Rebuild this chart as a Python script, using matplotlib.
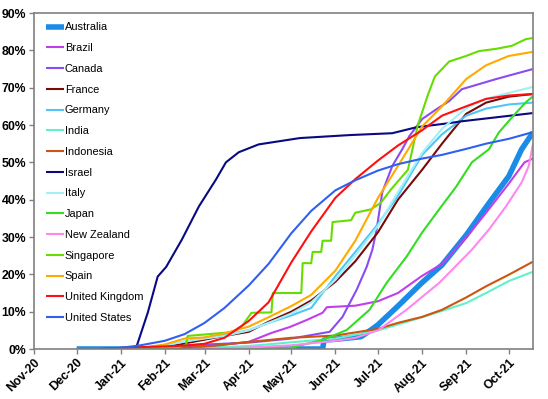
import matplotlib
matplotlib.use('Agg')
import matplotlib.pyplot as plt
import matplotlib.dates as mdates
from matplotlib.ticker import MultipleLocator, PercentFormatter
import pandas as pd
from datetime import datetime

plt.rcParams['font.family'] = ['Liberation Sans', 'DejaVu Sans']

# ---------------- data (share of population, %) ----------------
countries = ['Australia', 'Brazil', 'Canada', 'France', 'Germany', 'India', 'Indonesia',
             'Israel', 'Italy', 'Japan', 'New Zealand', 'Singapore', 'Spain',
             'United Kingdom', 'United States']

australia_dates = ['2020-12-01', '2021-05-23', '2021-05-24', '2021-06-01', '2021-06-19', '2021-06-26',
                   '2021-07-01', '2021-07-15', '2021-08-01', '2021-08-15', '2021-09-01', '2021-09-15',
                   '2021-10-01', '2021-10-10', '2021-10-18']
australia_vals = [0, 0, 2.4, 2.6, 3.3, 5.1, 6.5, 11.5, 17.8, 22.5, 30.5, 38, 46.3, 53.5, 58]

brazil_dates = ['2021-01-20', '2021-02-01', '2021-02-15', '2021-03-01', '2021-03-15', '2021-04-01',
                '2021-04-17', '2021-04-30', '2021-05-12', '2021-05-23', '2021-05-26', '2021-06-15',
                '2021-07-01', '2021-07-15', '2021-08-01', '2021-08-15', '2021-09-01', '2021-09-15',
                '2021-10-01', '2021-10-12', '2021-10-18']
brazil_vals = [0, 0.2, 0.5, 0.8, 1.2, 1.9, 4.3, 5.9, 7.8, 9.7, 11.2, 11.6, 12.8, 15, 19.6, 22.8,
               29.8, 36.5, 44.3, 50, 51]

canada_dates = ['2020-12-15', '2021-01-15', '2021-02-01', '2021-03-01', '2021-04-01', '2021-05-01',
                '2021-05-28', '2021-06-06', '2021-06-16', '2021-06-23', '2021-06-27', '2021-06-30',
                '2021-07-04', '2021-07-11', '2021-07-18', '2021-07-23', '2021-08-01', '2021-08-11',
                '2021-08-20', '2021-08-29', '2021-09-22', '2021-10-18']
canada_vals = [0, 0.3, 0.8, 1.2, 1.7, 2.8, 4.6, 8.6, 15.9, 22, 26.6, 32, 42, 49, 53.5, 57, 61.6,
               64.2, 66.4, 69.6, 72.3, 75]

france_dates = ['2020-12-27', '2021-01-15', '2021-02-01', '2021-02-15', '2021-03-01', '2021-03-15',
                '2021-04-01', '2021-04-15', '2021-05-01', '2021-05-15', '2021-06-01', '2021-06-15',
                '2021-07-01', '2021-07-15', '2021-08-01', '2021-08-15', '2021-09-01', '2021-09-15',
                '2021-10-01', '2021-10-18']
france_vals = [0, 0.1, 0.5, 1.5, 2.5, 3.5, 4.6, 7.3, 10, 13, 18, 23.5, 31.3, 40, 48, 55, 63, 66,
               67.6, 68.3]

germany_dates = ['2020-12-27', '2021-01-15', '2021-02-01', '2021-02-15', '2021-03-01', '2021-03-15',
                 '2021-04-01', '2021-04-15', '2021-05-01', '2021-05-15', '2021-06-01', '2021-06-15',
                 '2021-07-01', '2021-07-15', '2021-08-01', '2021-08-15', '2021-09-01', '2021-09-15',
                 '2021-10-01', '2021-10-18']
germany_vals = [0, 0.2, 1, 2, 3, 3.8, 5, 7, 9, 11, 19.5, 26, 33.5, 41, 52, 57.5, 62.5, 64.4,
                65.5, 66]

india_dates = ['2021-02-13', '2021-03-01', '2021-04-01', '2021-05-01', '2021-06-01', '2021-07-01',
               '2021-08-01', '2021-09-01', '2021-09-15', '2021-10-01', '2021-10-18']
india_vals = [0, 0.3, 0.8, 1.8, 2.8, 5, 8.5, 12.3, 15, 18.2, 20.7]

indonesia_dates = ['2021-01-28', '2021-03-01', '2021-04-01', '2021-05-01', '2021-06-01', '2021-07-01',
                   '2021-07-15', '2021-08-01', '2021-08-15', '2021-09-01', '2021-09-15', '2021-10-01',
                   '2021-10-18']
indonesia_vals = [0, 0.6, 1.9, 3, 3.6, 5.4, 7, 8.6, 10.5, 13.8, 16.8, 19.9, 23.4]

israel_dates = ['2020-12-20', '2021-01-10', '2021-01-12', '2021-01-20', '2021-01-27', '2021-02-02',
                '2021-02-13', '2021-02-25', '2021-03-09', '2021-03-16', '2021-03-25', '2021-04-08',
                '2021-05-07', '2021-06-11', '2021-07-11', '2021-07-28', '2021-08-20', '2021-08-29',
                '2021-10-18']
israel_vals = [0, 0, 0.5, 9.7, 19.4, 22, 29.3, 38.2, 45.4, 50, 52.7, 54.8, 56.5, 57.3, 57.8, 59.4,
               60.5, 61, 63.2]

italy_dates = ['2020-12-27', '2021-01-15', '2021-02-01', '2021-02-15', '2021-03-01', '2021-03-15',
               '2021-04-01', '2021-04-15', '2021-05-01', '2021-05-15', '2021-06-01', '2021-06-15',
               '2021-07-01', '2021-07-15', '2021-08-01', '2021-08-15', '2021-09-01', '2021-09-15',
               '2021-10-01', '2021-10-18']
italy_vals = [0, 0.1, 1, 2, 2.8, 3.5, 5, 7, 9.5, 12.5, 18.5, 25, 33, 42, 52.5, 59, 64.5, 67,
              68.6, 70.2]

japan_dates = ['2021-03-20', '2021-04-30', '2021-05-23', '2021-06-09', '2021-06-25', '2021-07-07',
               '2021-07-21', '2021-08-01', '2021-08-13', '2021-08-25', '2021-09-05', '2021-09-17',
               '2021-09-24', '2021-10-04', '2021-10-13', '2021-10-18']
japan_vals = [0, 0.3, 2.4, 5.1, 10.5, 17.7, 24.7, 31.2, 37.4, 43.5, 50, 53.5, 58, 62.4, 66.1, 67.7]

nz_dates = ['2021-02-20', '2021-04-01', '2021-05-01', '2021-06-01', '2021-06-15', '2021-07-01',
            '2021-07-21', '2021-08-13', '2021-09-05', '2021-09-17', '2021-09-29', '2021-10-10',
            '2021-10-15', '2021-10-18']
nz_vals = [0, 0.4, 1, 2.2, 3, 5, 10.5, 17.7, 26.6, 32, 38.2, 44.6, 49, 55]

singapore_dates = ['2021-01-15', '2021-02-10', '2021-02-16', '2021-02-17', '2021-03-20', '2021-03-27',
                   '2021-04-03', '2021-04-17', '2021-04-18', '2021-05-08', '2021-05-09', '2021-05-15',
                   '2021-05-16', '2021-05-22', '2021-05-23', '2021-05-29', '2021-05-30', '2021-06-12',
                   '2021-06-15', '2021-06-26', '2021-07-03', '2021-07-10', '2021-07-22', '2021-07-29',
                   '2021-08-05', '2021-08-10', '2021-08-20', '2021-09-01', '2021-09-10', '2021-09-22',
                   '2021-10-03', '2021-10-13', '2021-10-18']
singapore_vals = [0, 0.5, 1, 3.5, 4.5, 6, 9.7, 9.8, 15, 15, 23, 23, 26, 26, 29, 29, 34, 34.5,
                  36.5, 37.4, 39.2, 42.7, 48, 60, 68, 73, 77, 78.5, 79.8, 80.4, 81.2, 83, 83.3]

spain_dates = ['2021-01-01', '2021-01-15', '2021-02-01', '2021-02-15', '2021-03-01', '2021-03-15',
               '2021-04-01', '2021-04-15', '2021-05-01', '2021-05-15', '2021-06-01', '2021-06-15',
               '2021-07-01', '2021-07-15', '2021-08-01', '2021-08-15', '2021-09-01', '2021-09-15',
               '2021-10-01', '2021-10-18']
spain_vals = [0, 0.3, 1.2, 2.8, 3.1, 4.2, 6, 8.5, 11.5, 14.5, 21, 29, 40.5, 49, 59.6, 65, 72.3,
              76, 78.5, 79.6]

uk_dates = ['2020-12-20', '2021-01-01', '2021-01-15', '2021-02-01', '2021-02-15', '2021-03-01',
            '2021-03-15', '2021-04-01', '2021-04-15', '2021-05-01', '2021-05-15', '2021-06-01',
            '2021-06-15', '2021-07-01', '2021-07-15', '2021-08-01', '2021-08-15', '2021-09-01',
            '2021-09-15', '2021-10-01', '2021-10-18']
uk_vals = [0, 0.3, 0.5, 0.7, 0.9, 1.4, 3, 7.5, 12.5, 23.2, 31.5, 40.5, 45.5, 50.5, 54.5, 58.6,
           62.5, 65, 67, 67.9, 68.3]

us_dates = ['2020-12-15', '2021-01-01', '2021-01-15', '2021-02-01', '2021-02-15', '2021-03-01',
            '2021-03-15', '2021-04-01', '2021-04-15', '2021-05-01', '2021-05-15', '2021-06-01',
            '2021-06-15', '2021-07-01', '2021-07-15', '2021-08-01', '2021-08-15', '2021-09-01',
            '2021-09-15', '2021-10-01', '2021-10-18']
us_vals = [0, 0.3, 1, 2.2, 4, 7, 11, 17, 22.8, 31, 37, 42.5, 45.2, 47.8, 49.5, 51, 52, 53.6, 55,
           56.3, 58.1]

colors = ['#1a8ce8', '#c23ee8', '#8a4cf0', '#7a0a0a', '#4fc6f5', '#5ff2c8', '#cc5511',
          '#0a0a80', '#a0f0fa', '#33dd22', '#ff88ee', '#66dd00', '#ffaa00', '#ff1010', '#3060f0']
widths = [4.0, 1.5, 1.5, 1.5, 1.5, 1.5, 1.5, 1.5, 1.5, 1.5, 1.5, 1.5, 1.5, 1.5, 1.5]

all_dates = [australia_dates, brazil_dates, canada_dates, france_dates, germany_dates, india_dates,
             indonesia_dates, israel_dates, italy_dates, japan_dates, nz_dates, singapore_dates,
             spain_dates, uk_dates, us_dates]
all_vals = [australia_vals, brazil_vals, canada_vals, france_vals, germany_vals, india_vals,
            indonesia_vals, israel_vals, italy_vals, japan_vals, nz_vals, singapore_vals,
            spain_vals, uk_vals, us_vals]

# ---------------- figure ----------------
fig = plt.figure(figsize=(5.48, 3.99), dpi=100)
ax = fig.add_axes([34 / 548, 1 - 349 / 399, (533 - 34) / 548, (349 - 13) / 399])

for name, d, v, c, w in zip(countries, all_dates, all_vals, colors, widths):
    ax.plot(pd.to_datetime(d), v, color=c, lw=w, label=name,
            solid_joinstyle='round', solid_capstyle='butt')

ax.set_xlim(datetime(2020, 11, 1), datetime(2021, 10, 18))
ax.set_ylim(0, 90)
ax.xaxis.set_major_locator(mdates.MonthLocator())
ax.xaxis.set_major_formatter(mdates.DateFormatter('%b-%y'))
ax.yaxis.set_major_locator(MultipleLocator(10))
ax.yaxis.set_major_formatter(PercentFormatter(decimals=0))

ax.tick_params(axis='both', direction='out', length=3.5, width=1, color='#808080',
               labelsize=8.8, pad=2)
for lbl in ax.get_xticklabels():
    lbl.set_rotation(45)
    lbl.set_ha('right')
    lbl.set_rotation_mode('anchor')
    lbl.set_fontweight('bold')
for lbl in ax.get_yticklabels():
    lbl.set_fontweight('bold')

for s in ax.spines.values():
    s.set_color('#808080')
    s.set_linewidth(1.2)

ax.legend(loc='upper left', bbox_to_anchor=(0.024, 0.972), frameon=False, fontsize=7.9,
          handlelength=1.6, handletextpad=0.1, labelspacing=0.98, borderaxespad=0, borderpad=0)

fig.savefig('out.png', dpi=100)
